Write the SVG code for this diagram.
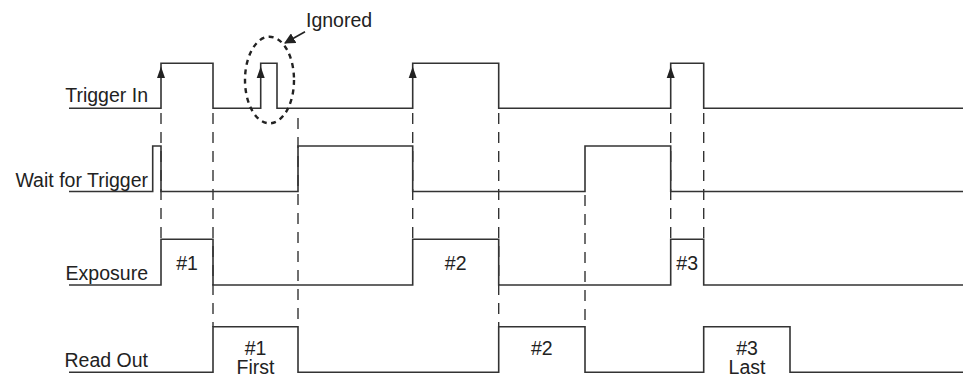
<svg xmlns="http://www.w3.org/2000/svg" width="963" height="375" viewBox="0 0 963 375">
  <style>
    .wave { fill: none; stroke: #333; stroke-width: 1.6; stroke-linejoin: miter; }
    .guide { fill: none; stroke: #333; stroke-width: 1.4; stroke-dasharray: 11 8; }
    .label { font-family: "Liberation Sans", Arial, Helvetica, sans-serif; font-size: 19.5px; fill: #222; }
    .sig { text-anchor: end; }
    .mid { text-anchor: middle; }
    .edge { fill: #222; }
    .halo { fill: none; stroke: #222; stroke-width: 2.4; stroke-dasharray: 5 4.5; }
  </style>
  <defs>
    <!-- upward arrowhead marking a rising trigger edge; tip at origin -->
    <path id="rise" class="edge" d="M0,0 L-4,11.5 L4,11.5 Z"/>
    <marker id="head" viewBox="0 0 10 10" refX="9" refY="5" markerWidth="11" markerHeight="11" markerUnits="userSpaceOnUse" orient="auto">
      <path d="M0,0 L10,5 L0,10 Z" fill="#222"/>
    </marker>
  </defs>

  <!-- timing guides between the signals -->
  <g id="connectors">
    <line class="guide" x1="161" y1="113" x2="161" y2="239"/>
    <line class="guide" x1="213" y1="113" x2="213" y2="327"/>
    <line class="guide" x1="298" y1="118" x2="298" y2="327"/>
    <line class="guide" x1="412.7" y1="113" x2="412.7" y2="239"/>
    <line class="guide" x1="498.7" y1="113" x2="498.7" y2="327"/>
    <line class="guide" x1="585" y1="195" x2="585" y2="327"/>
    <line class="guide" x1="670.7" y1="113" x2="670.7" y2="239"/>
    <line class="guide" x1="703.7" y1="113" x2="703.7" y2="239"/>
  </g>

  <g id="trigger-in">
    <text class="label sig" x="148" y="101.7">Trigger In</text>
    <polyline class="wave" points="69,108.3 161,108.3 161,63.3 213,63.3 213,108.3 260.7,108.3 260.7,63.3 277,63.3 277,108.3 412.7,108.3 412.7,63.3 498.7,63.3 498.7,108.3 670.7,108.3 670.7,63.3 703.7,63.3 703.7,108.3 963,108.3"/>
    <use href="#rise" x="161" y="66.5"/>
    <use href="#rise" x="260.7" y="66.5"/>
    <use href="#rise" x="412.7" y="66.5"/>
    <use href="#rise" x="670.7" y="66.5"/>
  </g>

  <g id="ignored">
    <ellipse class="halo" cx="269.5" cy="80" rx="24.5" ry="43.3"/>
    <line x1="305" y1="31.7" x2="285" y2="43" stroke="#222" stroke-width="1.6" marker-end="url(#head)"/>
    <text class="label" x="306" y="26.7">Ignored</text>
  </g>

  <g id="wait-for-trigger">
    <text class="label sig" x="148" y="186.7">Wait for Trigger</text>
    <polyline class="wave" points="69,191.5 152.7,191.5 152.7,146 161,146 161,191.5 298,191.5 298,146 412.7,146 412.7,191.5 585,191.5 585,146 670.7,146 670.7,191.5 963,191.5"/>
  </g>

  <g id="exposure">
    <text class="label sig" x="148" y="280">Exposure</text>
    <polyline class="wave" points="69,285 161,285 161,239.3 213,239.3 213,285 412.7,285 412.7,239.3 498.7,239.3 498.7,285 670.7,285 670.7,239.3 703.7,239.3 703.7,285 963,285"/>
    <text class="label mid" x="187" y="270">#1</text>
    <text class="label mid" x="455.7" y="270">#2</text>
    <text class="label mid" x="687.2" y="270">#3</text>
  </g>

  <g id="read-out">
    <text class="label sig" x="148" y="366.7">Read Out</text>
    <polyline class="wave" points="69,372.3 213,372.3 213,326.7 298,326.7 298,372.3 498.7,372.3 498.7,326.7 585,326.7 585,372.3 703.7,372.3 703.7,326.7 790,326.7 790,372.3 963,372.3"/>
    <text class="label mid" x="255.5" y="355">#1</text>
    <text class="label mid" x="255.5" y="374">First</text>
    <text class="label mid" x="541.8" y="355">#2</text>
    <text class="label mid" x="747" y="355">#3</text>
    <text class="label mid" x="747" y="374">Last</text>
  </g>
</svg>
